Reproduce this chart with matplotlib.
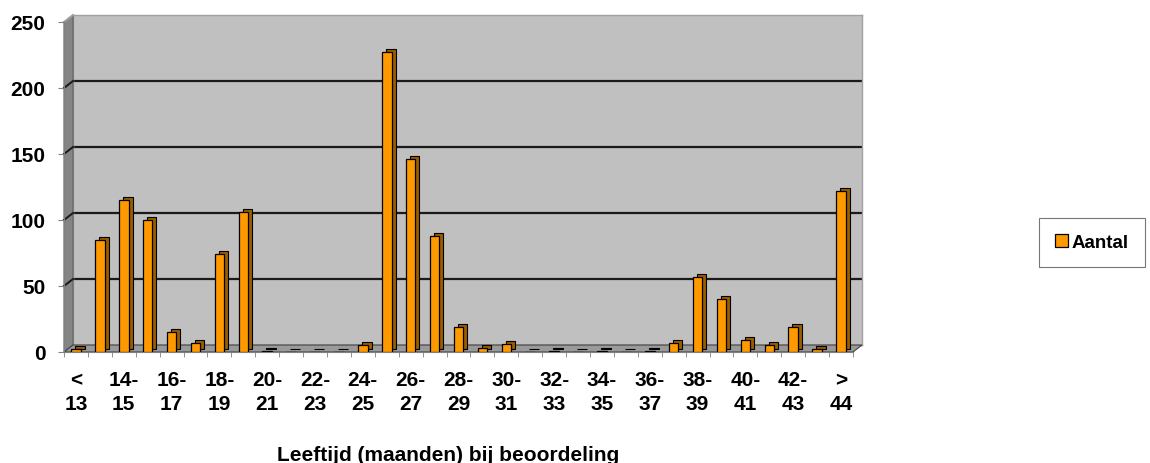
import matplotlib.pyplot as plt
from matplotlib.patches import Polygon
from matplotlib.lines import Line2D
from matplotlib.transforms import offset_copy

plt.rcParams['font.family'] = ['Liberation Sans', 'DejaVu Sans']

# leeftijdsklassen (maanden) en aantallen
categories = ["< 13"] + [f"{12 + i}-{13 + i}" for i in range(1, 32)] + ["> 44"]
counts = [2, 85, 115, 100, 15, 7, 74, 106, 1, 0, 0, 0, 5, 227, 146, 88,
          19, 3, 6, 0, 1, 0, 1, 0, 1, 7, 57, 40, 9, 5, 19, 2, 122]
tick_labels = []
for i, c in enumerate(categories):
    if i % 2:
        tick_labels.append("")
    else:
        a, b = (c.split(" ") if " " in c else (c.split("-")[0] + "-", c.split("-")[1]))
        tick_labels.append(a + "\n" + b)
yticks = [0, 50, 100, 150, 200, 250]

W, H = 1150, 464
fig = plt.figure(figsize=(W / 100, H / 100), dpi=100)

# front (axis) and back (wall) planes, 3D offset in pixels
DX, DY = 9, 7
front = [64 / W, 1 - 353 / H, (853 - 64) / W, (353 - 23) / H]
back = [front[0] + DX / W, front[1] + DY / H, front[2], front[3]]

axb = fig.add_axes(back)
axb.set_facecolor('#c0c0c0')
axb.set_xlim(-0.5, len(counts) - 0.5)
axb.set_ylim(0, 250)
axb.set_xticks([])
axb.set_yticks(yticks[1:-1])
axb.tick_params(left=False, labelleft=False)
axb.grid(axis='y', color='#1a1a1a', lw=1.6)
for s in axb.spines.values():
    s.set_color('#a0a0a0')
    s.set_linewidth(1)

ax = fig.add_axes(front)
ax.set_zorder(3)
ax.set_facecolor('none')
ax.set_xlim(-0.5, len(counts) - 0.5)
ax.set_ylim(0, 250)

# left wall and floor
x0, y0 = front[0], front[1]
x1, y1 = front[0] + front[2], front[1] + front[3]
dx, dy = DX / W, DY / H
fig.add_artist(Polygon([(x0, y0), (x0 + dx, y0 + dy), (x0 + dx, y1 + dy), (x0, y1)],
                       closed=True, transform=fig.transFigure, fc='#858585',
                       ec='#606060', lw=0.8, zorder=1))
fig.add_artist(Polygon([(x0, y0), (x1, y0), (x1 + dx, y0 + dy), (x0 + dx, y0 + dy)],
                       closed=True, transform=fig.transFigure, fc='#9a9a9a',
                       ec='#404040', lw=0.8, zorder=1))
# gridlines on the left wall
inv = fig.transFigure.inverted()
for v in yticks[1:]:
    px, py = inv.transform(ax.transData.transform((-0.5, v)))
    fig.add_artist(Line2D([px, px + dx], [py, py + dy], transform=fig.transFigure,
                          color='#1a1a1a' if v < 250 else '#a0a0a0', lw=1.4, zorder=1))

# bars with depth
x = list(range(len(counts)))
depth = offset_copy(ax.transData, fig=fig, x=4, y=3, units='dots')
ax.bar(x, counts, width=0.4, color='#9a5c00', edgecolor='black', lw=0.8,
       transform=depth, zorder=2)
ax.bar(x, counts, width=0.4, color='#ff9900', edgecolor='black', lw=0.9,
       zorder=3, label='Aantal')

for s in ['top', 'right']:
    ax.spines[s].set_visible(False)
for s in ['left', 'bottom']:
    ax.spines[s].set_color('#808080')

ax.set_yticks(yticks)
ax.set_yticklabels([str(v) for v in yticks], fontsize=15, fontweight='bold')
ax.set_xticks([i - 0.5 for i in range(len(counts) + 1)], minor=True)
ax.set_xticks(x)
ax.set_xticklabels(tick_labels, fontsize=15, fontweight='bold', linespacing=1.3)
ax.tick_params(axis='y', length=4.3, pad=9, color='#808080')
ax.tick_params(axis='x', which='major', length=0, pad=13)
ax.tick_params(axis='x', which='minor', length=3.6, color='#808080')

fig.text(448 / W, 3 / H, "Leeftijd (maanden) bij beoordeling", ha='center',
         va='baseline', fontsize=15, fontweight='bold')

leg = fig.legend(loc='center', bbox_to_anchor=(1092 / W, 1 - 243.5 / H),
                 prop={'weight': 'bold', 'size': 13.5}, fancybox=False,
                 edgecolor='#555555', handlelength=0.7, handleheight=0.7,
                 handletextpad=0.2, borderpad=0.85, borderaxespad=0)
leg.get_frame().set_linewidth(0.8)

fig.savefig('out.png', dpi=100)
